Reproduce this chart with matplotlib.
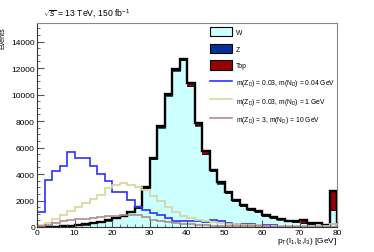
import matplotlib
matplotlib.use("Agg")
import matplotlib.pyplot as plt
import numpy as np
from matplotlib.patches import Patch
from matplotlib.lines import Line2D
from matplotlib.ticker import MultipleLocator

plt.rcParams['font.family'] = ['Liberation Sans', 'DejaVu Sans']
plt.rcParams['mathtext.fontset'] = 'custom'
plt.rcParams['mathtext.rm'] = 'Liberation Sans'
plt.rcParams['mathtext.it'] = 'Liberation Sans:italic'
plt.rcParams['mathtext.sf'] = 'Liberation Sans'

# 2 GeV bins from 0 to 80
edges = np.arange(0, 82, 2)

# background stack components (events per bin)
top = [0, 0, 0, 0, 5, 5, 10, 10, 15, 20, 25, 30, 40, 50, 60, 70, 80, 90, 90, 90,
       190, 170, 180, 90, 80, 70, 60, 60, 50, 40, 40, 30, 30, 30, 30, 220, 30, 30, 20, 1390]
zbos = [0, 0, 0, 0, 0, 5, 5, 5, 5, 10, 10, 10, 10, 10, 20, 30, 30, 40, 40, 40,
        30, 30, 20, 20, 20, 10, 10, 10, 10, 10, 10, 10, 5, 5, 5, 5, 5, 5, 5, 30]
total = [30, 30, 30, 60, 100, 150, 200, 280, 380, 520, 700, 850, 1150, 1500, 3000, 5200, 7600, 10040, 11930, 12720,
         10850, 7850, 5700, 4330, 3370, 2620, 2060, 1660, 1360, 1185, 906, 730, 600, 480, 420, 500, 280, 330, 180, 2700]
wbos = [t - a - b for t, a, b in zip(total, top, zbos)]

# signal samples
sig_a = [1110, 3550, 4250, 4630, 5690, 5180, 5180, 4630, 4030, 3500, 2620, 2620, 2060, 1480, 1280, 1070, 930, 710, 450, 420,
         450, 420, 400, 500, 480, 300, 250, 220, 200, 170, 140, 120, 110, 90, 80, 70, 60, 50, 40, 250]
sig_b = [150, 280, 600, 930, 1230, 1530, 1810, 2110, 2450, 2950, 3200, 3330, 3200, 3030, 2780, 2330, 1950, 1510, 1170, 860,
         670, 520, 430, 370, 300, 250, 210, 180, 150, 130, 110, 100, 90, 80, 70, 60, 50, 45, 40, 200]
sig_c = [100, 180, 300, 420, 520, 580, 620, 660, 720, 800, 860, 900, 920, 900, 720, 560, 450, 350, 290, 230,
         190, 160, 130, 110, 95, 80, 70, 60, 50, 45, 40, 35, 30, 25, 20, 18, 15, 12, 10, 30]

labels = ["W", "Z", "Top",
          r"m(Z$_{\mathrm{D}}$) = 0.03, m(N$_{\mathrm{D}}$) = 0.04 GeV",
          r"m(Z$_{\mathrm{D}}$) = 0.03, m(N$_{\mathrm{D}}$) = 1 GeV",
          r"m(Z$_{\mathrm{D}}$) = 3, m(N$_{\mathrm{D}}$) = 10 GeV"]

c_w, c_z, c_top = '#ccffff', '#003399', '#990000'
c_a, c_b, c_c = '#3030ff', '#d8d49c', '#b08c8c'

fig = plt.figure(figsize=(3.74, 2.53), dpi=100)
ax = fig.add_axes([37/374, 25/253, 300/374, 204/253])

base = np.zeros(len(wbos))
for vals, col in [(wbos, c_w), (zbos, c_z), (top, c_top)]:
    v = np.array(vals, dtype=float)
    ax.stairs(base + v, edges, baseline=base, fill=True, color=col)
    ax.stairs(base + v, edges, baseline=None, color='black', lw=0.5)
    base = base + v
ax.stairs(total, edges, color='black', lw=1.7)

ax.stairs(sig_a, edges, color=c_a, lw=1.2)
ax.stairs(sig_b, edges, color=c_b, lw=1.2)
ax.stairs(sig_c, edges, color=c_c, lw=1.2)

ax.set_xlim(0, 80)
ax.set_ylim(0, 15400)
ax.xaxis.set_major_locator(MultipleLocator(10))
ax.xaxis.set_minor_locator(MultipleLocator(2))
ax.yaxis.set_major_locator(MultipleLocator(2000))
ax.yaxis.set_minor_locator(MultipleLocator(500))
ax.tick_params(which='both', direction='in', labelsize=6, pad=1.5, color='#555555')
ax.tick_params(which='major', length=5, width=0.8)
ax.tick_params(which='minor', length=2.5, width=0.6)
for s in ['top', 'right']:
    ax.spines[s].set_color('#888888')
for s in ['left', 'bottom']:
    ax.spines[s].set_color('#333333')

handles = [Patch(facecolor=c_w, edgecolor='black', lw=0.8),
           Patch(facecolor=c_z, edgecolor='black', lw=0.8),
           Patch(facecolor=c_top, edgecolor='black', lw=0.8),
           Line2D([], [], color=c_a, lw=1.2),
           Line2D([], [], color=c_b, lw=1.2),
           Line2D([], [], color=c_c, lw=1.2)]
ax.legend(handles, labels, loc='upper left', bbox_to_anchor=(169/300, 1.0), frameon=False,
          fontsize=4.9, handlelength=3.2, handleheight=1.7, labelspacing=1.1,
          handletextpad=0.55, borderaxespad=0.2)

fig.text(43/374, 1 - 14/253, r"$\sqrt{s}$ = 13 TeV, 150 fb$^{-1}$", fontsize=6.2, va='center', ha='left')
fig.text(3/374, 1 - 27/253, "Events", rotation=90, fontsize=5, va='top', ha='center')
fig.text(337/374, 1 - 242/253, r"p$_{\mathrm{T}}$(l$_{1}$,l$_{2}$,l$_{3}$) [GeV]", fontsize=6, va='center', ha='right')

fig.savefig('out.png', dpi=100)
